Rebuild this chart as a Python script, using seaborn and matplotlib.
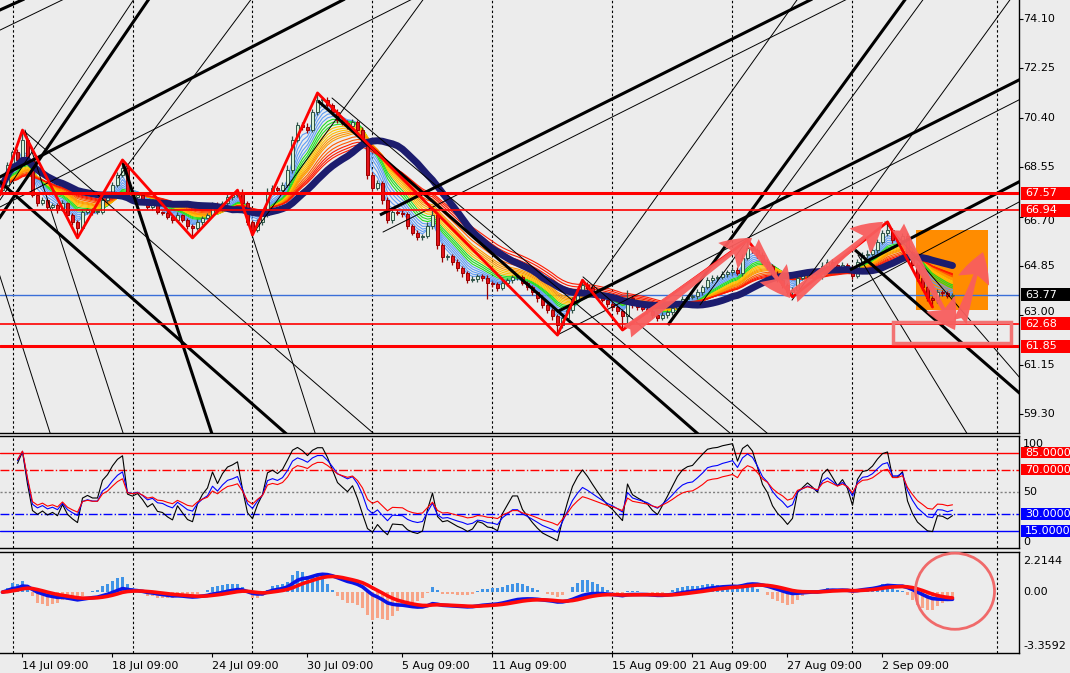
import numpy as np
import pandas as pd
import matplotlib
matplotlib.use("Agg")
import matplotlib.pyplot as plt
import seaborn as sns
from matplotlib.patches import Rectangle, Ellipse

# ---------------- data (H4 candles, one every bar index) ----------------
closes = [
    67.88, 68.63, 69.12, 68.82, 69.57, 68.82, 67.51, 67.21, 67.32, 67.06,
    67.13, 66.95, 67.21, 66.76, 66.50, 66.27, 66.87, 66.95, 66.87, 66.87,
    67.32, 67.51, 67.88, 68.26, 68.52, 67.51, 67.43, 67.51, 67.32, 67.06,
    67.13, 66.87, 66.83, 66.68, 66.57, 66.76, 66.57, 66.35, 66.27, 66.50,
    66.65, 66.76, 67.13, 66.95, 67.21, 67.43, 67.51, 67.62, 67.21, 66.50,
    66.20, 66.50, 66.76, 67.62, 67.77, 67.69, 67.88, 68.44, 69.57, 70.13,
    70.05, 69.94, 70.62, 71.07, 71.07, 70.88, 70.62, 70.32, 70.20, 70.09,
    70.24, 69.94, 69.38, 68.26, 67.77, 67.96, 67.32, 66.57, 66.87, 66.83,
    66.80, 66.35, 66.08, 65.93, 65.97, 66.35, 66.76, 65.63, 65.19, 65.22,
    65.00, 64.77, 64.59, 64.32, 64.36, 64.47, 64.40, 64.21, 64.17, 64.02,
    64.21, 64.32, 64.44, 64.44, 64.21, 64.06, 63.87, 63.65, 63.39, 63.20,
    62.98, 62.64, 62.90, 63.20, 63.57, 63.87, 64.14, 64.02, 63.87, 63.72,
    63.57, 63.42, 63.31, 63.16, 62.98, 63.65, 63.39, 63.31, 63.24, 63.16,
    63.01, 62.90, 63.01, 63.13, 63.28, 63.46, 63.61, 63.69, 63.72, 63.87,
    64.06, 64.32, 64.40, 64.44, 64.55, 64.62, 64.70, 64.59, 65.15, 65.52,
    65.45, 65.26, 65.00, 64.85, 64.55, 64.32, 64.14, 63.87, 63.95, 64.40,
    64.51, 64.62, 64.55, 64.47, 64.85, 65.00, 64.89, 64.77, 64.89, 64.77,
    64.47, 65.00, 65.26, 65.30, 65.45, 65.75, 66.08, 66.20, 65.82, 65.82,
    65.97, 65.37, 64.89, 64.40, 64.06, 63.65, 63.57, 63.87, 63.84, 63.72,
    63.77,
]
first_open = 67.70
# upper / lower wick lengths in cents
wick_up = [
    10, 12, 8, 10, 37, 6, 8, 5, 10, 6,
    8, 6, 10, 5, 8, 6, 10, 8, 6, 8,
    10, 8, 12, 10, 30, 6, 8, 10, 6, 5,
    8, 6, 5, 8, 6, 10, 5, 6, 8, 10,
    6, 8, 10, 12, 8, 10, 8, 7, 10, 6,
    8, 10, 12, 15, 10, 8, 12, 20, 15, 12,
    10, 15, 12, 26, 10, 12, 8, 10, 8, 10,
    12, 8, 10, 15, 10, 12, 8, 10, 15, 8,
    10, 8, 6, 10, 8, 15, 20, 10, 8, 6,
    8, 10, 6, 8, 10, 6, 8, 10, 6, 8,
    10, 8, 6, 10, 8, 6, 8, 6, 10, 8,
    6, 8, 10, 8, 10, 12, 18, 10, 8, 6,
    8, 6, 10, 8, 6, 30, 8, 6, 10, 8,
    6, 8, 10, 8, 6, 8, 10, 6, 8, 10,
    8, 10, 12, 8, 10, 8, 10, 12, 15, 30,
    10, 8, 10, 12, 8, 10, 8, 6, 10, 12,
    10, 8, 12, 10, 15, 10, 12, 8, 10, 6,
    8, 12, 10, 15, 10, 12, 10, 30, 8, 10,
    12, 10, 8, 6, 10, 8, 6, 10, 8, 6,
    6,
]
wick_dn = [
    10, 8, 6, 10, 8, 10, 8, 12, 6, 10,
    8, 10, 6, 12, 10, 37, 8, 6, 10, 8,
    6, 8, 10, 6, 8, 10, 12, 8, 10, 8,
    10, 8, 6, 8, 10, 6, 8, 10, 37, 8,
    10, 6, 8, 10, 6, 8, 10, 8, 6, 12,
    19, 8, 10, 6, 8, 10, 8, 6, 10, 8,
    10, 12, 8, 10, 15, 8, 10, 12, 8, 10,
    8, 10, 12, 15, 10, 8, 15, 12, 10, 8,
    10, 12, 8, 10, 12, 8, 10, 15, 20, 12,
    10, 12, 15, 10, 8, 10, 12, 60, 10, 12,
    8, 10, 12, 10, 8, 10, 12, 15, 10, 12,
    15, 38, 10, 8, 12, 10, 8, 10, 12, 10,
    8, 10, 12, 10, 53, 40, 12, 10, 8, 10,
    12, 10, 8, 12, 10, 8, 10, 12, 8, 10,
    10, 8, 12, 10, 8, 10, 12, 8, 10, 8,
    10, 12, 8, 10, 12, 8, 10, 12, 18, 10,
    8, 10, 12, 8, 10, 12, 8, 10, 12, 15,
    10, 8, 12, 10, 8, 10, 8, 10, 12, 10,
    8, 12, 10, 12, 10, 12, 26, 10, 12, 8,
    6,
]

# zigzag vertices (bar index, price)
zig_x = [-0.5, 4, 15, 24, 38, 47, 50, 63, 111, 116, 124, 149, 158, 177, 186]
zig_y = [67.51, 69.94, 65.90, 68.82, 65.90, 67.69, 66.01, 71.33, 62.26, 64.32,
         62.45, 65.82, 63.69, 66.50, 63.31]

# trend lines (x1, y1, x2, y2) in bar index / price
thick_lines = [
    (-4.5, 74.10, 8.3, 75.18), (-2.5, 66.13, 30.5, 75.18), (-2.5, 67.99, 71.9, 75.18),
    (75.5, 66.76, 165.5, 75.18), (110.9, 63.13, 207.5, 72.21), (133.1, 62.64, 181.9, 75.18),
    (169.5, 64.70, 207.5, 68.41), (-2.5, 68.33, 57.5, 58.44), (24.1, 68.71, 42.3, 58.33),
    (63.1, 71.03, 140.5, 58.33), (170.5, 65.45, 207.5, 59.42),
]
thin_lines = [
    (-4.5, 73.32, 15.9, 75.17), (-0.5, 67.32, 27.5, 75.18), (23.1, 68.14, 51.1, 75.18),
    (-2.5, 66.87, 85.5, 75.18), (49.9, 66.01, 85.5, 75.18), (76.1, 66.12, 172.5, 75.18),
    (110.9, 62.26, 207.5, 71.47), (117.5, 63.95, 160.3, 75.18), (139.5, 63.39, 185.5, 75.18),
    (157.9, 63.57, 202.9, 75.18), (170.1, 63.95, 207.5, 67.66),
    (4.5, 69.87, 75.5, 58.37), (4.5, 69.94, 24.5, 58.37), (-1.5, 65.04, 9.9, 58.37),
    (49.9, 66.01, 62.9, 58.37), (65.9, 71.14, 146.9, 58.37), (116.1, 64.44, 154.3, 58.37),
    (171.1, 65.26, 193.7, 58.33), (176.5, 66.50, 207.5, 59.79),
]
# arrows (tail x, tail y, tip x, tip y)
arrows = [
    (124.9, 62.38, 149.9, 65.90), (150.1, 65.71, 157.5, 63.65),
    (158.1, 63.69, 176.1, 66.50), (179.1, 66.31, 190.5, 62.45),
    (191.5, 62.75, 196.1, 65.37),
]
orange_box = (182.7, 63.20, 197.1, 66.20)
target_box = (178.1, 61.96, 201.7, 62.75)

levels = [67.57, 66.94, 62.68, 61.85]
level_widths = [2.2, 1.2, 1.2, 2.2]
last_price = 63.77
price_ticks = [74.10, 72.25, 70.40, 68.55, 66.70, 64.85, 63.00, 61.15, 59.30]
grid_x = [2.1, 26.1, 49.9, 73.9, 97.9, 121.9, 145.9, 169.9, 198.9]
date_pos = [4, 22, 42, 61, 80, 98, 122, 138, 157, 176]
date_labels = ["14 Jul 09:00", "18 Jul 09:00", "24 Jul 09:00", "30 Jul 09:00",
               "5 Aug 09:00", "11 Aug 09:00", "15 Aug 09:00", "21 Aug 09:00",
               "27 Aug 09:00", "2 Sep 09:00"]

ema_periods = [3, 4, 5, 6, 7, 8, 9, 10, 11, 12, 13, 14, 15, 16, 18, 20, 22, 24, 26]
ema_colors = (["#5f9df5"] * 5 + ["#22dd22"] * 3 + ["#ffc000"] * 3 +
              ["#ff9a00"] * 3 + ["#ff5a00"] * 2 + ["#ff1a00"] * 3)
slow_period = 22
rsi_periods = [6, 11, 17]
rsi_colors = ["black", "#0000ff", "#ff0000"]
macd_fast, macd_slow, macd_sig, hist_scale = 8, 17, 6, 4.0

# ---------------- derived ----------------
n = min(len(closes), len(wick_up), len(wick_dn))
c = np.array(closes[:n])
o = np.array([first_open] + closes[:n - 1])
hi = np.maximum(o, c) + np.array(wick_up[:n]) / 100.0
lo = np.minimum(o, c) - np.array(wick_dn[:n]) / 100.0
xs = np.arange(n)
s = pd.Series(c)

BG = "#ececec"
sns.set_theme(style="white")
plt.rcParams["font.family"] = ["DejaVu Sans"]
plt.rcParams["axes.facecolor"] = BG

W, H = 1070, 673
fig = plt.figure(figsize=(W / 100, H / 100), dpi=100)
fig.patch.set_facecolor(BG)
ax1 = fig.add_axes([0, 1 - 433 / H, 1019 / W, 433 / H])
ax2 = fig.add_axes([0, 1 - 548 / H, 1019 / W, 112 / H])
ax3 = fig.add_axes([0, 1 - 653 / H, 1019 / W, 101 / H])

for ax in (ax1, ax2, ax3):
    ax.set_facecolor(BG)
    ax.set_xlim(-0.5, 203.3)
    for sp in ax.spines.values():
        sp.set_color("black")
        sp.set_linewidth(1.0)
    ax.spines["left"].set_visible(False)
    for gx in grid_x:
        ax.axvline(gx, color="black", lw=0.8, ls=(0, (2.2, 2.2)), zorder=1)
    ax.tick_params(axis="y", left=False, labelleft=False)
ax1.spines["top"].set_visible(False)
ax1.set_ylim(58.594, 74.81)

# ---------------- main panel ----------------
ox1, oy1, ox2, oy2 = orange_box
ax1.add_patch(Rectangle((ox1, oy1), ox2 - ox1, oy2 - oy1, fc="#ff8c00", ec="none", zorder=1.5))
ax1.axhline(last_price, color="#3a6fd8", lw=1.0, zorder=1.8)

for p, col in zip(ema_periods, ema_colors):
    e = s.ewm(span=p, adjust=False).mean()
    sns.lineplot(x=xs, y=e.values, ax=ax1, color=col, lw=0.8, estimator=None,
                 sort=False, legend=False, zorder=3)

up = c >= o
BULL_FACE, BULL_EDGE = "#d6f2d6", "#2e5347"
BEAR_FACE, BEAR_EDGE = "#e3141a", "#9a0000"
ax1.vlines(xs[up], lo[up], hi[up], color=BULL_EDGE, lw=0.9, zorder=3.5)
ax1.vlines(xs[~up], lo[~up], hi[~up], color=BEAR_EDGE, lw=0.9, zorder=3.5)
bb = np.minimum(o, c)
bh = np.maximum(np.abs(c - o), 0.03)
ax1.bar(xs[up], bh[up], 0.7, bottom=bb[up], color=BULL_FACE, edgecolor=BULL_EDGE, lw=0.7, zorder=3.6)
ax1.bar(xs[~up], bh[~up], 0.7, bottom=bb[~up], color=BEAR_FACE, edgecolor=BEAR_EDGE, lw=0.7, zorder=3.6)

slow = s.rolling(slow_period, min_periods=1).mean()
sns.lineplot(x=xs, y=slow.values, ax=ax1, color="#1c1c6e", lw=5.0, estimator=None,
             sort=False, legend=False, zorder=4.5)

for (x1, y1, x2, y2) in thick_lines:
    ax1.plot([x1, x2], [y1, y2], color="black", lw=2.2, zorder=5, solid_capstyle="butt")
for (x1, y1, x2, y2) in thin_lines:
    ax1.plot([x1, x2], [y1, y2], color="black", lw=0.7, zorder=5)

for lv, lw in zip(levels, level_widths):
    ax1.axhline(lv, color="#ff0000", lw=lw, zorder=6)

ax1.plot(zig_x, zig_y, color="#ff0000", lw=2.0, zorder=7)

tx1, ty1, tx2, ty2 = target_box
ax1.add_patch(Rectangle((tx1, ty1), tx2 - tx1, ty2 - ty1, fill=False, ec="#f27373", lw=2.5, zorder=8))
for (ax_, ay_, bx_, by_) in arrows:
    ax1.annotate("", xy=(bx_, by_), xytext=(ax_, ay_),
                 arrowprops=dict(arrowstyle="fancy,head_length=2.4,head_width=2.6,tail_width=1.1",
                                 mutation_scale=9, fc="#f85e5e", ec="none", alpha=0.95,
                                 shrinkA=0, shrinkB=0), zorder=9)

ax1.yaxis.tick_right()
ax1.set_yticks(price_ticks)
ax1.tick_params(axis="y", right=True, labelright=False, length=3, width=0.8,
                colors="black", direction="out")
ax1.tick_params(axis="x", bottom=False, labelbottom=False)
ax1.set_xlabel("")
ax1.set_ylabel("")

# ---------------- oscillator panel ----------------
delta = s.diff()
gain = delta.clip(lower=0)
loss = -delta.clip(upper=0)
for p, col in zip(rsi_periods, rsi_colors):
    ag = gain.ewm(alpha=1.0 / p, adjust=True).mean()
    al = loss.ewm(alpha=1.0 / p, adjust=True).mean()
    rsi = 100 - 100 / (1 + ag / al.replace(0, np.nan))
    sns.lineplot(x=xs, y=rsi.values, ax=ax2, color=col, lw=0.8, estimator=None,
                 sort=False, legend=False, zorder=4)
ax2.axhline(85, color="#ff0000", lw=1.0, zorder=3)
ax2.axhline(70, color="#ff0000", lw=1.0, ls="-.", zorder=3)
ax2.axhline(50, color="#808080", lw=1.0, ls=(0, (1.5, 1.5)), zorder=3)
ax2.axhline(30, color="#0000ff", lw=1.0, ls="-.", zorder=3)
ax2.axhline(15, color="#0000ff", lw=1.0, zorder=3)
ax2.set_ylim(0, 100)
ax2.tick_params(axis="x", bottom=False, labelbottom=False)
ax2.tick_params(axis="y", right=False, labelright=False)
ax2.set_xlabel("")
ax2.set_ylabel("")

# ---------------- MACD panel ----------------
macd = s.ewm(span=macd_fast, adjust=False).mean() - s.ewm(span=macd_slow, adjust=False).mean()
sig = macd.ewm(span=macd_sig, adjust=False).mean()
hist = (macd - sig) * hist_scale
hcol = np.where(hist.values >= 0, "#3f93e6", "#f7a487")
ax3.bar(xs, hist.values, 0.6, color=hcol, lw=0, zorder=3)
sns.lineplot(x=xs, y=macd.values, ax=ax3, color="#0a14e6", lw=2.6, estimator=None,
             sort=False, legend=False, zorder=4)
sns.lineplot(x=xs, y=sig.values, ax=ax3, color="#ff0a0a", lw=2.6, estimator=None,
             sort=False, legend=False, zorder=4.5)
ax3.set_ylim(-3.3592, 2.2144)
ax3.add_patch(Ellipse((190.5, 0.05), 15.8, 4.2, fill=False, ec="#f06a6a", lw=2.0,
                      zorder=10, clip_on=False))
ax3.set_xticks(date_pos)
ax3.set_xticklabels(date_labels, ha="left")
ax3.tick_params(axis="x", bottom=True, labelbottom=True, length=3, width=0.8, pad=3,
                labelsize=8, colors="black", direction="out")
ax3.tick_params(axis="y", right=False, labelright=False)
ax3.set_xlabel("")
ax3.set_ylabel("")

# ---------------- right-side labels ----------------
def ypx(ax, v):
    return ax.transData.transform((0, v))[1]

def tag(ax, v, txt, fc, h=13):
    y = ypx(ax, v)
    fig.patches.append(Rectangle((1021 / W, (y - h / 2) / H), 49 / W, h / H,
                                 transform=fig.transFigure, fc=fc, ec="none", zorder=5))
    fig.text(1025 / W, y / H, txt, color="white", fontsize=8, va="center", ha="left", zorder=6)

def plain(ax, v, txt, dy=0):
    y = ypx(ax, v) + dy
    fig.text(1023 / W, y / H, txt, color="black", fontsize=8, va="center", ha="left", zorder=4)

# price scale labels (two are nudged clear of the level tags, as they sit half hidden)
nudge = {66.70: -4, 63.00: 3}
for v in price_ticks:
    plain(ax1, v, f"{v:.2f}", dy=nudge.get(v, 0))

for lv in levels:
    tag(ax1, lv, f"{lv:.2f}", "#ff0000")
tag(ax1, last_price, f"{last_price:.2f}", "black")

plain(ax2, 100, "100", dy=-8)
plain(ax2, 50, "50")
plain(ax2, 0, "0", dy=6)
tag(ax2, 85, "85.0000", "#ff0000", h=11)
tag(ax2, 70, "70.0000", "#ff0000", h=11)
tag(ax2, 30, "30.0000", "#0000ff", h=12)
tag(ax2, 15, "15.0000", "#0000ff", h=12)

plain(ax3, 2.2144, "2.2144", dy=-9)
plain(ax3, 0.0, "0.00")
plain(ax3, -3.3592, "-3.3592", dy=7)

fig.savefig("out.png", dpi=100, facecolor=BG)
